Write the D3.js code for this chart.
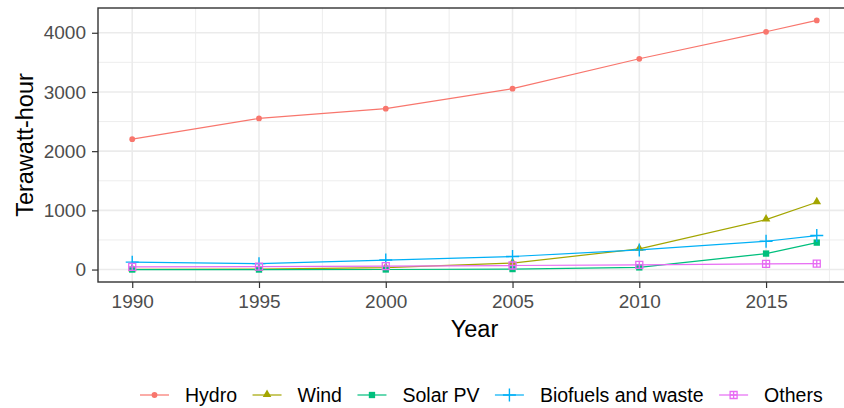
<!DOCTYPE html>
<html>
<head>
<meta charset="utf-8">
<script src="https://cdn.jsdelivr.net/npm/d3@7"></script>
<style>
  body { margin: 0; background: #fff; }
  svg { font-family: "Liberation Sans", Arial, sans-serif; display: block; }
</style>
</head>
<body>
<div id="chart"></div>
<script>
// data
var years = [1990, 1995, 2000, 2005, 2010, 2015, 2017];
var seriesNames = ["Hydro", "Wind", "Solar PV", "Biofuels and waste", "Others"];
var hydro = [2203, 2553, 2717, 3055, 3561, 4017, 4208];
var wind = [4, 8, 31, 110, 349, 844, 1136];
var solar = [0, 0, 1, 8, 36, 270, 455];
var biofuels = [125, 100, 160, 220, 332, 478, 574];
var others = [45, 50, 58, 68, 80, 96, 100];
var xTicks = [1990, 1995, 2000, 2005, 2010, 2015];
var yTicks = [0, 1000, 2000, 3000, 4000];

var colors = ["#F8766D", "#A3A500", "#00BF7D", "#00B0F6", "#E76BF3"];
var values = [hydro, wind, solar, biofuels, others];

var W = 844, H = 408;
var margin = {top: 8, left: 98};
var panelW = 753, panelH = 274;

var svg = d3.select("#chart").append("svg")
    .attr("width", W)
    .attr("height", H);

var g = svg.append("g")
    .attr("transform", "translate(" + margin.left + "," + margin.top + ")");

// ggplot style 5% expansion
var xr = [1990, 2017], yr = [0, 4208];
var xe = (xr[1] - xr[0]) * 0.05, ye = (yr[1] - yr[0]) * 0.05;
var x = d3.scaleLinear().domain([xr[0] - xe, xr[1] + xe]).range([0, panelW]);
var y = d3.scaleLinear().domain([yr[0] - ye, yr[1] + ye]).range([panelH, 0]);

// minor grid
var xMinor = xTicks.map(function (d) { return d + 2.5; }).filter(function (d) { return d < x.domain()[1]; });
var yMinor = yTicks.map(function (d) { return d + 500; }).filter(function (d) { return d < y.domain()[1]; });

g.selectAll(".xminor").data(xMinor).enter().append("line")
    .attr("x1", function (d) { return x(d); }).attr("x2", function (d) { return x(d); })
    .attr("y1", 0).attr("y2", panelH)
    .attr("stroke", "#EBEBEB").attr("stroke-width", 0.9);
g.selectAll(".yminor").data(yMinor).enter().append("line")
    .attr("y1", function (d) { return y(d); }).attr("y2", function (d) { return y(d); })
    .attr("x1", 0).attr("x2", panelW)
    .attr("stroke", "#EBEBEB").attr("stroke-width", 0.9);

// major grid
g.selectAll(".xmajor").data(xTicks).enter().append("line")
    .attr("x1", function (d) { return x(d); }).attr("x2", function (d) { return x(d); })
    .attr("y1", 0).attr("y2", panelH)
    .attr("stroke", "#EBEBEB").attr("stroke-width", 1.6);
g.selectAll(".ymajor").data(yTicks).enter().append("line")
    .attr("y1", function (d) { return y(d); }).attr("y2", function (d) { return y(d); })
    .attr("x1", 0).attr("x2", panelW)
    .attr("stroke", "#EBEBEB").attr("stroke-width", 1.6);

// symbols
function drawShape(sel, i, color) {
    if (i === 0) {
        sel.append("path").attr("d", d3.symbol().type(d3.symbolCircle).size(26)).attr("fill", color);
    } else if (i === 1) {
        sel.append("path").attr("d", d3.symbol().type(d3.symbolTriangle).size(32))
            .attr("transform", "translate(0,-0.5)").attr("fill", color);
    } else if (i === 2) {
        sel.append("path").attr("d", d3.symbol().type(d3.symbolSquare).size(40)).attr("fill", color);
    } else if (i === 3) {
        sel.append("path").attr("d", "M-6.5,0H6.5M0,-6.5V6.5")
            .attr("stroke", color).attr("stroke-width", 1.4).attr("fill", "none");
    } else {
        sel.append("path").attr("d", "M-3.5,-3.5H3.5V3.5H-3.5ZM-3.5,0H3.5M0,-3.5V3.5")
            .attr("stroke", color).attr("stroke-width", 1.3).attr("fill", "none");
    }
}

var line = d3.line()
    .x(function (d, i) { return x(years[i]); })
    .y(function (d) { return y(d); });

values.forEach(function (vals, i) {
    g.append("path")
        .attr("d", line(vals))
        .attr("fill", "none")
        .attr("stroke", colors[i])
        .attr("stroke-width", 1.2);
});

values.forEach(function (vals, i) {
    g.selectAll(".pt" + i).data(vals).enter().append("g")
        .attr("transform", function (d, j) { return "translate(" + x(years[j]) + "," + y(d) + ")"; })
        .each(function () { drawShape(d3.select(this), i, colors[i]); });
});

// panel border
g.append("rect")
    .attr("width", panelW).attr("height", panelH)
    .attr("fill", "none").attr("stroke", "#333333").attr("stroke-width", 1.4);

// axes
var xAxis = g.append("g")
    .attr("transform", "translate(0," + panelH + ")")
    .call(d3.axisBottom(x).tickValues(xTicks).tickFormat(d3.format("d")).tickSize(6).tickPadding(7));
var yAxis = g.append("g")
    .call(d3.axisLeft(y).tickValues(yTicks).tickFormat(d3.format("d")).tickSize(6).tickPadding(6));

[xAxis, yAxis].forEach(function (a) {
    a.select(".domain").remove();
    a.selectAll("line").attr("stroke", "#333333").attr("stroke-width", 1.2);
    a.selectAll("text").attr("fill", "#4D4D4D").style("font-size", "19px");
});

svg.append("text")
    .attr("x", margin.left + panelW / 2)
    .attr("y", 336.5)
    .attr("text-anchor", "middle")
    .style("font-size", "23.5px")
    .attr("fill", "#000")
    .text("Year");

svg.append("text")
    .attr("transform", "translate(33," + (margin.top + panelH / 2) + ") rotate(-90)")
    .attr("text-anchor", "middle")
    .style("font-size", "23.5px")
    .attr("fill", "#000")
    .text("Terawatt-hour");

// legend
var legend = svg.append("g");
var lx = 140, keyW = 29;
seriesNames.forEach(function (name, i) {
    var item = legend.append("g").attr("transform", "translate(" + lx + ",395)");
    item.append("line")
        .attr("x1", 0).attr("x2", keyW)
        .attr("stroke", colors[i]).attr("stroke-width", 1.2);
    var sym = item.append("g").attr("transform", "translate(" + keyW / 2 + ",0)");
    drawShape(sym, i, colors[i]);
    var t = item.append("text")
        .attr("x", keyW + 16)
        .attr("y", 7)
        .style("font-size", "19.5px")
        .attr("fill", "#000")
        .text(name);
    lx += keyW + 16 + t.node().getComputedTextLength() + 15.5;
});
</script>
</body>
</html>
